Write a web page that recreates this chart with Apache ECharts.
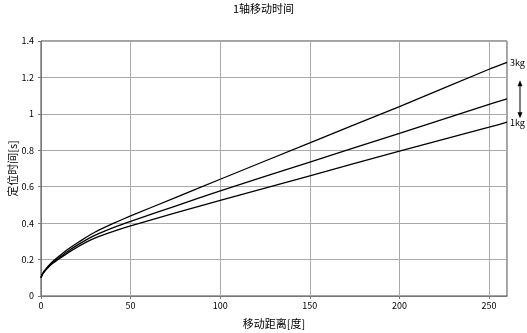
<!DOCTYPE html>
<html><head><meta charset="utf-8">
<script src="https://cdn.jsdelivr.net/npm/echarts@6/dist/echarts.min.js"></script>
<style>html,body{margin:0;padding:0;background:#fff}#c{width:527px;height:333px}</style>
</head><body><div id="c"></div>
<script>
var distances = [0, 0.5, 1, 2, 3, 5, 7, 10, 15, 20, 25, 30, 40, 50, 75, 100, 150, 200, 250, 260];
var time3kg = [0.10, 0.115, 0.125, 0.14, 0.152, 0.175, 0.193, 0.218, 0.257, 0.29, 0.321, 0.35, 0.397, 0.44, 0.54, 0.641, 0.841, 1.04, 1.245, 1.283];
var time2kg = [0.10, 0.114, 0.123, 0.137, 0.149, 0.17, 0.187, 0.21, 0.246, 0.278, 0.307, 0.333, 0.374, 0.41, 0.494, 0.577, 0.735, 0.893, 1.052, 1.082];
var time1kg = [0.10, 0.113, 0.121, 0.134, 0.146, 0.166, 0.182, 0.203, 0.237, 0.267, 0.294, 0.318, 0.354, 0.385, 0.456, 0.525, 0.66, 0.795, 0.927, 0.954];
var yTicks = [0, 0.2, 0.4, 0.6, 0.8, 1, 1.2, 1.4];
var xTicks = [0, 50, 100, 150, 200, 250];
var titleText = '1轴移动时间';
var xName = '移动距离[度]';
var yName = '定位时间[s]';

function pairs(ys){ return distances.map(function(x,i){ return [x, ys[i]]; }); }
var font = '"Noto Sans CJK SC", "Noto Sans", sans-serif';
var chart = echarts.init(document.getElementById('c'), null, {renderer:'canvas'});
function mk(name, ys, lbl){
  var s = {
    name: name, type: 'line', data: pairs(ys), smooth: 0.15, showSymbol: false, symbol: 'none',
    lineStyle: {color: '#000', width: 1.3}, silent: true, clip: false
  };
  if (lbl) {
    s.endLabel = {show: true, formatter: lbl, color: '#000', fontSize: 9, fontFamily: font, distance: 3};
  }
  return s;
}
chart.setOption({
  animation: false,
  backgroundColor: '#fff',
  title: {text: titleText, left: 'center', top: -2, textStyle: {fontSize: 11, fontWeight: 'normal', color: '#000', fontFamily: font}},
  grid: {left: 41, right: 20, top: 41, bottom: 37, show: true, borderColor: '#444', borderWidth: 1, containLabel: false, outerBoundsMode: 'none'},
  xAxis: {
    type: 'value', min: 0, max: 260, interval: 50,
    name: xName, nameLocation: 'middle', nameGap: 22, nameMoveOverlap: false,
    nameTextStyle: {fontSize: 11, color: '#000', fontFamily: font},
    axisLine: {lineStyle: {color: '#777'}},
    axisTick: {show: true, length: 3, lineStyle: {color: '#777'}},
    axisLabel: {fontSize: 9, color: '#000', fontFamily: font, margin: 5, showMaxLabel: false,
      formatter: function(v){ return xTicks.indexOf(v) >= 0 ? String(v) : ''; }},
    splitLine: {lineStyle: {color: '#aaa', width: 1}}
  },
  yAxis: {
    type: 'value', min: 0, max: 1.4, interval: 0.2,
    name: yName, nameLocation: 'middle', nameGap: 23, nameRotate: 90, nameMoveOverlap: false,
    nameTextStyle: {fontSize: 11, color: '#000', fontFamily: font},
    axisLine: {show: true, lineStyle: {color: '#777'}},
    axisTick: {show: true, length: 3, lineStyle: {color: '#777'}},
    axisLabel: {fontSize: 9, color: '#000', fontFamily: font, margin: 7,
      formatter: function(v){ var r = Math.round(v*10)/10; return String(r); }},
    splitLine: {lineStyle: {color: '#aaa', width: 1}}
  },
  series: [mk('3kg', time3kg, '3kg'), mk('2kg', time2kg, null), mk('1kg', time1kg, '1kg')]
});
var x0 = chart.convertToPixel({gridIndex:0}, [260, 0])[0] + 13;
var yTop = chart.convertToPixel({gridIndex:0}, [260, time3kg[time3kg.length-1]])[1] + 20;
var yBot = chart.convertToPixel({gridIndex:0}, [260, time1kg[time1kg.length-1]])[1] - 6;
chart.setOption({graphic: [
  {type: 'line', shape: {x1: x0, y1: yTop + 2, x2: x0, y2: yBot - 2}, style: {stroke: '#000', lineWidth: 1}},
  {type: 'polygon', shape: {points: [[x0, yTop - 2], [x0 - 2.5, yTop + 4], [x0 + 2.5, yTop + 4]]}, style: {fill: '#000'}},
  {type: 'polygon', shape: {points: [[x0, yBot + 2], [x0 - 2.5, yBot - 4], [x0 + 2.5, yBot - 4]]}, style: {fill: '#000'}}
]});
</script></body></html>
